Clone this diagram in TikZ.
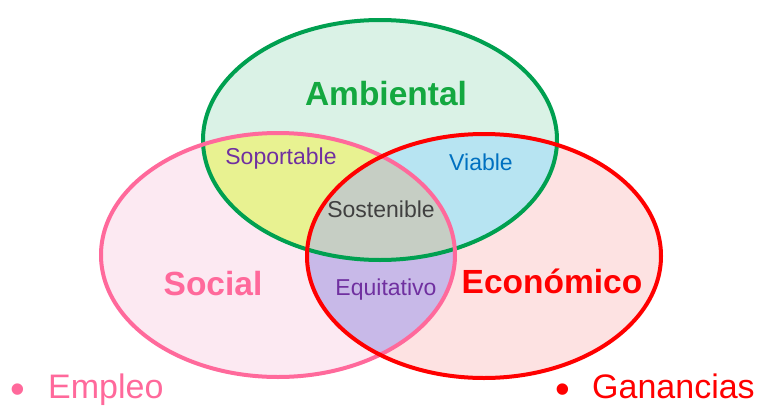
\documentclass[tikz,border=0pt]{standalone}
\usepackage{fontspec}
\setmainfont{Liberation Sans}
\usepackage{tikz}

\definecolor{lineamb}{RGB}{0,160,80}
\definecolor{linesoc}{RGB}{255,105,155}
\definecolor{lineeco}{RGB}{255,0,0}
\definecolor{fillamb}{RGB}{218,242,230}
\definecolor{fillsoc}{RGB}{252,233,242}
\definecolor{filleco}{RGB}{253,226,226}
\definecolor{fillsop}{RGB}{232,242,145}
\definecolor{fillvia}{RGB}{183,228,242}
\definecolor{fillsos}{RGB}{198,206,196}
\definecolor{fillequ}{RGB}{200,185,232}
\definecolor{textamb}{RGB}{20,168,64}
\definecolor{textpur}{RGB}{112,48,160}
\definecolor{textvia}{RGB}{0,112,192}
\definecolor{textsos}{RGB}{64,64,64}

\begin{document}
\begin{tikzpicture}[x=1pt,y=-1pt,
  big/.style={font=\fontsize{33.5}{36}\selectfont\bfseries, inner sep=0pt, anchor=base},
  small/.style={font=\fontsize{23}{26}\selectfont, inner sep=0pt, anchor=base},
  item/.style={font=\fontsize{34}{38}\selectfont, inner sep=0pt, anchor=base west},
  dot/.style={font=\fontsize{42}{44}\selectfont, inner sep=0pt, anchor=base}]
				\useasboundingbox (0,0) rectangle (764,410);
				% the three sets
				\fill [fillsoc] (278,255) ellipse [x radius=177, y radius=122];
				\fill [filleco] (484,256) ellipse [x radius=177, y radius=122];
				\fill [fillamb] (380,140) ellipse [x radius=177, y radius=120];
				% two at a time
				\begin{scope}
				\clip (278,255) ellipse [x radius=177, y radius=122];
				\fill [fillsop] (380,140) ellipse [x radius=177, y radius=120];
				\fill [fillequ] (484,256) ellipse [x radius=177, y radius=122];
				\end{scope}
				\begin{scope}
				\clip (380,140) ellipse [x radius=177, y radius=120];
				\fill [fillvia] (484,256) ellipse [x radius=177, y radius=122];
				\end{scope}
				% all three
				\begin{scope}
				\clip (278,255) ellipse [x radius=177, y radius=122];
				\clip (380,140) ellipse [x radius=177, y radius=120];
				\fill [fillsos] (484,256) ellipse [x radius=177, y radius=122];
				\end{scope}
				
				\draw [lineamb, line width=4pt] (380,140) ellipse [x radius=177, y radius=120];
				\draw [linesoc, line width=4pt] (278,255) ellipse [x radius=177, y radius=122];
				\draw [lineeco, line width=4pt] (484,256) ellipse [x radius=177, y radius=122];
				
				\node[big, textamb] (amb) at (386,105) {Ambiental};
				\node[big, linesoc] (soc) at (213,295) {Social};
				\node[big, lineeco] (eco) at (552,293) {Económico};
				
				\node[small, textpur] (sop) at (281,164) {Soportable};
				\node[small, textvia] (via) at (481,170) {Viable};
				\node[small, textsos] (sos) at (381,217) {Sostenible};
				\node[small, textpur] (equ) at (386,295) {Equitativo};
				
				\node[dot, linesoc] (d1) at (18,403) {•};
				\node[item, linesoc] (emp) at (48,398) {Empleo};
				\node[dot, lineeco] (d2) at (563,403) {•};
				\node[item, lineeco] (gan) at (592,398) {Ganancias};
\end{tikzpicture}
\end{document}
